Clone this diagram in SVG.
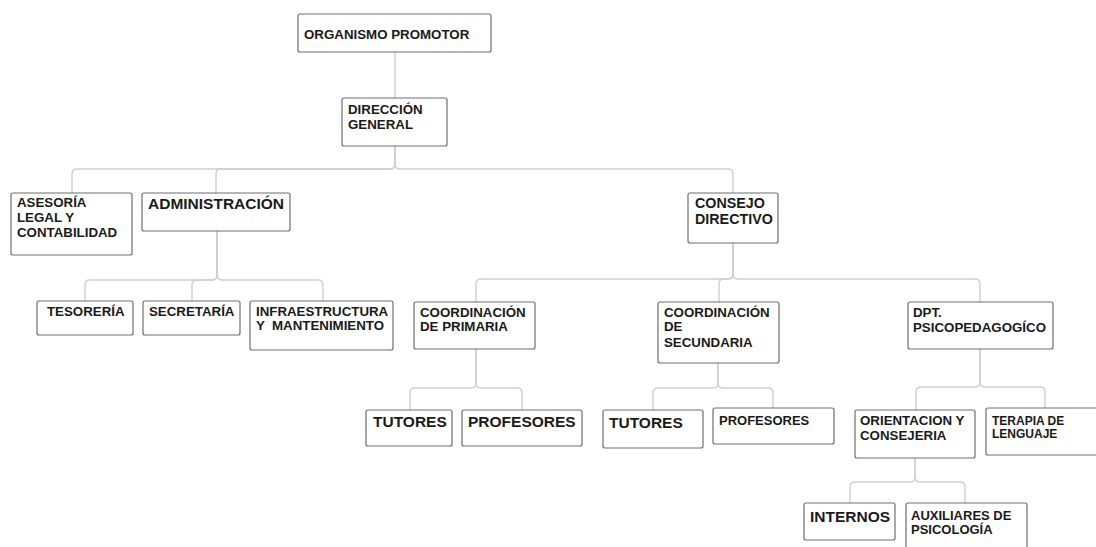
<svg xmlns="http://www.w3.org/2000/svg" width="1096" height="547" viewBox="0 0 1096 547">
<style>
.box{fill:#fff;stroke:#6e6e6e;stroke-width:1.2}
.t{font-family:"Liberation Sans",Arial,sans-serif;font-weight:bold;font-size:13.3px;fill:#1a1a1a}
.tl{font-size:15.5px}
.tm{font-size:14.3px}
.ts{font-size:12px}
.tp{font-size:13px}
.c{fill:none;stroke:#cfcfcf;stroke-width:1.4}
</style>
<rect width="1096" height="547" fill="#fff"/>
<g id="connectors">
<path class="c" d="M395,52 V98"/>
<path class="c" d="M395,146 V164 Q395,169 390,169 H77 Q72,169 72,174 V193"/>
<path class="c" d="M395,146 V164 Q395,169 390,169 H221 Q216,169 216,174 V193"/>
<path class="c" d="M395,146 V164 Q395,169 400,169 H728 Q733,169 733,174 V193"/>
<path class="c" d="M217,231 V275 Q217,280 212,280 H90 Q85,280 85,285 V301"/>
<path class="c" d="M217,231 V275 Q217,280 212,280 H197 Q192,280 192,285 V301"/>
<path class="c" d="M217,231 V275 Q217,280 222,280 H318 Q323,280 323,285 V301"/>
<path class="c" d="M733,243 V274 Q733,279 728,279 H481 Q476,279 476,284 V302"/>
<path class="c" d="M733,243 V274 Q733,279 728,279 H724 Q719,279 719,284 V302"/>
<path class="c" d="M733,243 V274 Q733,279 738,279 H975 Q980,279 980,284 V302"/>
<path class="c" d="M476,349 V383 Q476,388 471,388 H415 Q410,388 410,393 V410"/>
<path class="c" d="M476,349 V383 Q476,388 481,388 H517 Q522,388 522,393 V410"/>
<path class="c" d="M718,363 V383 Q718,388 713,388 H658 Q653,388 653,393 V410"/>
<path class="c" d="M718,363 V383 Q718,388 723,388 H768 Q773,388 773,393 V408"/>
<path class="c" d="M980,349 V382 Q980,387 975,387 H921 Q916,387 916,392 V410"/>
<path class="c" d="M980,349 V382 Q980,387 985,387 H1040 Q1045,387 1045,392 V408"/>
<path class="c" d="M915,458 V477 Q915,482 910,482 H855 Q850,482 850,487 V503"/>
<path class="c" d="M915,458 V477 Q915,482 920,482 H960 Q965,482 965,487 V503"/>
</g>
<g id="organismo"><rect class="box" x="298" y="14" width="193" height="38" rx="2"/><text class="t" x="304" y="38.5">ORGANISMO PROMOTOR</text></g>
<g id="direccion"><rect class="box" x="342" y="98" width="105" height="48" rx="2"/><text class="t" x="348" y="113.5">DIRECCIÓN</text><text class="t" x="348" y="128.5">GENERAL</text></g>
<g id="asesoria"><rect class="box" x="11" y="193" width="121" height="62" rx="2"/><text class="t" x="17" y="207">ASESORÍA</text><text class="t" x="17" y="221.5">LEGAL Y</text><text class="t" x="17" y="236.5">CONTABILIDAD</text></g>
<g id="administracion"><rect class="box" x="142" y="193" width="148" height="38" rx="2"/><text class="t tl" x="148" y="209">ADMINISTRACIÓN</text></g>
<g id="consejo"><rect class="box" x="688" y="193" width="90" height="50" rx="2"/><text class="t tm" x="695" y="208">CONSEJO</text><text class="t tm" x="695" y="224">DIRECTIVO</text></g>
<g id="tesoreria"><rect class="box" x="37" y="301" width="96" height="34" rx="2"/><text class="t" x="47" y="316">TESORERÍA</text></g>
<g id="secretaria"><rect class="box" x="143" y="301" width="97" height="34" rx="2"/><text class="t" x="149" y="316">SECRETARÍA</text></g>
<g id="infraestructura"><rect class="box" x="250" y="301" width="143" height="49" rx="2"/><text class="t" x="256" y="316" xml:space="preserve">INFRAESTRUCTURA</text><text class="t" x="256" y="330" xml:space="preserve">Y  MANTENIMIENTO</text></g>
<g id="primaria"><rect class="box" x="414" y="302" width="121" height="47" rx="2"/><text class="t" x="420" y="316.5">COORDINACIÓN</text><text class="t" x="420" y="331">DE PRIMARIA</text></g>
<g id="secundaria"><rect class="box" x="658" y="302" width="121" height="61" rx="2"/><text class="t" x="664" y="316.5">COORDINACIÓN</text><text class="t" x="664" y="331">DE</text><text class="t" x="664" y="346.5">SECUNDARIA</text></g>
<g id="dpt"><rect class="box" x="908" y="302" width="145" height="47" rx="2"/><text class="t" x="913" y="316.5">DPT.</text><text class="t" x="913" y="331.5">PSICOPEDAGOGÍCO</text></g>
<g id="tutores1"><rect class="box" x="366" y="410" width="86" height="36" rx="2"/><text class="t tl" x="373" y="426.5">TUTORES</text></g>
<g id="profesores1"><rect class="box" x="462" y="410" width="120" height="36" rx="2"/><text class="t tl" x="468" y="426.5">PROFESORES</text></g>
<g id="tutores2"><rect class="box" x="603" y="410" width="100" height="38" rx="2"/><text class="t tl" x="609" y="428">TUTORES</text></g>
<g id="profesores2"><rect class="box" x="713" y="408" width="121" height="36" rx="2"/><text class="t tp" x="719" y="425">PROFESORES</text></g>
<g id="orientacion"><rect class="box" x="855" y="410" width="120" height="48" rx="2"/><text class="t" x="860" y="425">ORIENTACION Y</text><text class="t" x="860" y="440">CONSEJERIA</text></g>
<g id="terapia"><rect class="box" x="986" y="408" width="115" height="47" rx="2"/><text class="t ts" x="992" y="424.5">TERAPIA DE</text><text class="t ts" x="992" y="437.5">LENGUAJE</text></g>
<g id="internos"><rect class="box" x="804" y="503" width="91" height="37" rx="2"/><text class="t tl" x="810" y="521.5">INTERNOS</text></g>
<g id="auxiliares"><rect class="box" x="906" y="503" width="121" height="50" rx="2"/><text class="t tp" x="911" y="519.5">AUXILIARES DE</text><text class="t tp" x="911" y="534">PSICOLOGÍA</text></g>
</svg>
